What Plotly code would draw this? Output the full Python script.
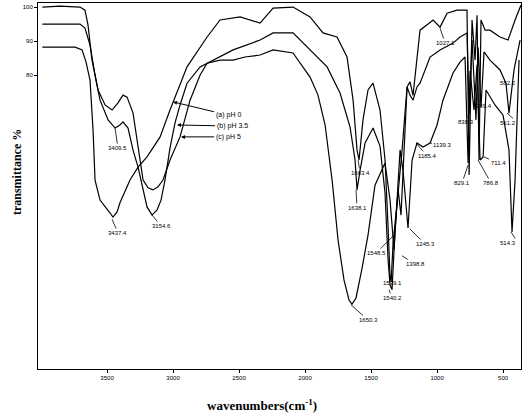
import plotly.graph_objects as go

# ---- data (wavenumber cm-1, transmittance %) ----
wn_a = [3990, 3742, 3689, 3659, 3629, 3606, 3591, 3553, 3477, 3455, 3424, 3402, 3326, 3265, 3197, 3098,
        3023, 2970, 2894, 2742, 2644, 2492, 2341, 2242, 2091, 1962, 1864, 1758, 1682, 1636, 1606, 1591,
        1561, 1523, 1485, 1432, 1394, 1371, 1356, 1348, 1333, 1295, 1265, 1227, 1205, 1182, 1159, 1129,
        1068, 1030, 977, 924, 849, 773, 757, 735, 712, 697, 682, 667, 636, 599, 523, 462, 409, 364]
t_a = [88.2, 88.2, 87.4, 83.8, 78.5, 63.8, 49.1, 43.2, 39.4, 38.2, 39.7, 42.4, 49.1, 52.9, 55.9, 61.8,
       69.7, 74.7, 82.4, 91.2, 96.2, 97.1, 95.3, 99.7, 100, 97.1, 92.4, 91.2, 85.3, 72.6, 57.9, 55,
       66.8, 75.6, 77.6, 69.7, 55, 35.3, 20.6, 19.1, 30.6, 45.3, 57.9, 76.5, 78, 74, 82, 93.2,
       95, 96.2, 94.1, 98.2, 99.1, 99.1, 50.6, 96.2, 84.4, 97.6, 55, 96.2, 93.2, 93.2, 91.2, 90.3, 96.2, 100.6]

wn_b = [3990, 3705, 3667, 3629, 3591, 3553, 3492, 3439, 3402, 3379, 3341, 3303, 3265, 3235, 3197, 3159,
        3121, 3091, 3061, 3023, 2985, 2947, 2894, 2795, 2697, 2545, 2341, 2242, 2091, 1962, 1833, 1735,
        1659, 1621, 1606, 1583, 1545, 1485, 1432, 1394, 1371, 1356, 1341, 1318, 1295, 1273, 1250, 1227,
        1205, 1182, 1152, 1129, 1053, 977, 879, 826, 773, 757, 735, 705, 689, 667, 644, 599, 523, 478,
        455, 417, 371]
t_b = [95, 95, 93.8, 88.8, 80, 72.6, 66.8, 64.4, 65.3, 66.2, 64.4, 57.9, 52.9, 47.6, 41.2, 38.8,
       40.3, 43.2, 49.1, 58.5, 65.9, 71.2, 77.6, 82.4, 84.4, 87.4, 90.3, 92.4, 92.4, 87.4, 82.4, 74.7,
       64.7, 55, 46.2, 52, 60, 64.4, 59.1, 45.3, 25.6, 18.2, 16.8, 34.4, 46.2, 38.8, 57.9, 76.5,
       74.1, 72.6, 76.5, 77.6, 85.3, 87.4, 89.4, 91.2, 92.4, 69.7, 90.3, 66.8, 88.2, 70.6, 86.8, 84.4, 81.5, 77.6,
       68.8, 81.5, 90.3]

wn_c = [3990, 3856, 3705, 3667, 3644, 3614, 3568, 3515, 3462, 3417, 3379, 3348, 3303, 3265, 3227, 3189,
        3152, 3114, 3076, 3023, 2977, 2947, 2871, 2795, 2742, 2644, 2545, 2455, 2341, 2242, 2091, 1962,
        1902, 1848, 1795, 1750, 1705, 1667, 1644, 1614, 1568, 1523, 1470, 1394, 1356, 1326, 1303, 1280,
        1258, 1220, 1189, 1152, 1106, 1053, 1000, 955, 879, 826, 788, 765, 750, 720, 697, 674, 651, 629,
        561, 500, 455, 432, 409, 379]
t_c = [100, 100.3, 100, 99.1, 94.7, 84.4, 75.6, 71.2, 69.7, 71.8, 74.1, 73.5, 68.8, 58.8, 49.1, 46.8,
       46.2, 47.1, 49.1, 55, 59.4, 61.8, 72.6, 80, 83.5, 84.4, 84.4, 85.3, 85.9, 87.4, 86.5, 79.4,
       74.1, 65.3, 49.1, 31.5, 19.7, 13.8, 12.6, 14.4, 23.2, 32.9, 47.6, 54.1, 43.2, 28.5, 43.2, 58,
       52, 35, 55, 60, 58.8, 60, 65.3, 72.6, 80.6, 83.8, 85.3, 54.1, 81.2, 69.7, 83, 55, 55.9, 75.6,
       71.2, 68.2, 57.9, 33.8, 49.1, 84.4]

series_names = ["(a) pH 0", "(b) pH 3.5", "(c) pH 5"]

# peak labels: text, label position, pointed position
peak_text = ["3409.5", "3437.4", "3154.6", "1663.4", "1638.1", "1548.5", "1539.1", "1540.2", "1650.3",
             "1398.8", "1245.3", "1185.4", "1139.3", "1027.1", "838.3", "829.1", "789.4", "786.8",
             "711.4", "582.2", "561.2", "514.3"]
peak_tx = [3417, 3417, 3091, 1583, 1606, 1462, 1341, 1341, 1523, 1167, 1091, 1076, 955, 939, 780, 811,
           644, 591, 538, 385, 385, 385]
peak_ty = [58.5, 33.5, 35.6, 51.2, 40.9, 27.6, 18.8, 14.4, 7.9, 24.4, 30.3, 56.2, 59.4, 89.4, 66.2, 48.2,
           70.9, 48.2, 54.1, 77.6, 65.9, 30.6]
peak_anchor = ["center"] * 19 + ["right", "right", "right"]
peak_px = [3439, 3462, 3159, 1598, 1614, 1326, 1356, 1364, 1652, 1265, 1205, 1159, 1053, 977, 750, 765,
           682, 689, 644, 485, 470, 440]
peak_py = [64.4, 37.6, 38.8, 55, 46.2, 32.9, 21.2, 16.8, 12.4, 26.8, 34.7, 60, 60, 93.8, 69.7, 53.5,
           72.6, 55, 55.9, 78.5, 68.8, 33.8]

legend_tx = [2583, 2553, 2583]
legend_ty = [68.2, 65.0, 61.8]
legend_px = [3000, 2970, 2939]
legend_py = [72.1, 65.3, 61.8]

x_ticks = [3500, 3000, 2500, 2000, 1500, 1000, 500]
y_ticks = [80, 90, 100]

fig = go.Figure()
for wn, t, nm in [(wn_a, t_a, series_names[0]), (wn_b, t_b, series_names[1]), (wn_c, t_c, series_names[2])]:
    fig.add_trace(go.Scatter(x=wn, y=t, mode="lines", name=nm,
                             line=dict(color="black", width=1.2), showlegend=False))

small = dict(family="Liberation Sans", size=6, color="black")
anns = []
for txt, tx, ty, px, py, anc in zip(peak_text, peak_tx, peak_ty, peak_px, peak_py, peak_anchor):
    anns.append(dict(x=px, y=py, ax=tx, ay=ty, xref="x", yref="y", axref="x", ayref="y",
                     text=txt, showarrow=True, arrowhead=0, arrowwidth=0.8, arrowcolor="black",
                     xanchor=anc, font=small))
for txt, tx, ty, px, py in zip(series_names, legend_tx, legend_ty, legend_px, legend_py):
    anns.append(dict(x=px, y=py, ax=tx, ay=ty, xref="x", yref="y", axref="x", ayref="y",
                     text=txt, showarrow=True, arrowhead=2, arrowsize=0.8, arrowwidth=1,
                     arrowcolor="black", font=dict(family="Liberation Sans", size=7, color="black")))
anns.append(dict(x=0.464, y=-0.098, xref="paper", yref="paper", showarrow=False,
                 text="<b>wavenumbers(cm<sup>-1</sup>)</b>",
                 font=dict(family="Liberation Serif", size=13, color="black"),
                 xanchor="center", yanchor="middle"))
anns.append(dict(x=-0.0435, y=0.538, xref="paper", yref="paper", showarrow=False,
                 text="<b>transmittance %</b>", textangle=-90,
                 font=dict(family="Liberation Serif", size=12, color="black"),
                 xanchor="center", yanchor="middle"))

fig.update_layout(
    width=526, height=416,
    margin=dict(l=38, r=5, t=3, b=47),
    paper_bgcolor="white", plot_bgcolor="white",
    annotations=anns,
    xaxis=dict(range=[4023, 364], tickvals=x_ticks, ticktext=[str(v) for v in x_ticks],
               showgrid=False, zeroline=False, showline=True, mirror=True,
               linecolor="black", linewidth=1, ticks="outside", ticklen=3, tickcolor="black",
               tickfont=dict(family="Liberation Sans", size=6, color="black")),
    yaxis=dict(range=[-6.5, 101.2], tickvals=y_ticks, ticktext=[str(v) for v in y_ticks],
               showgrid=False, zeroline=False, showline=True, mirror=True,
               linecolor="black", linewidth=1, ticks="outside", ticklen=3, tickcolor="black",
               tickfont=dict(family="Liberation Sans", size=6, color="black")),
)

fig.write_html("out.html")
